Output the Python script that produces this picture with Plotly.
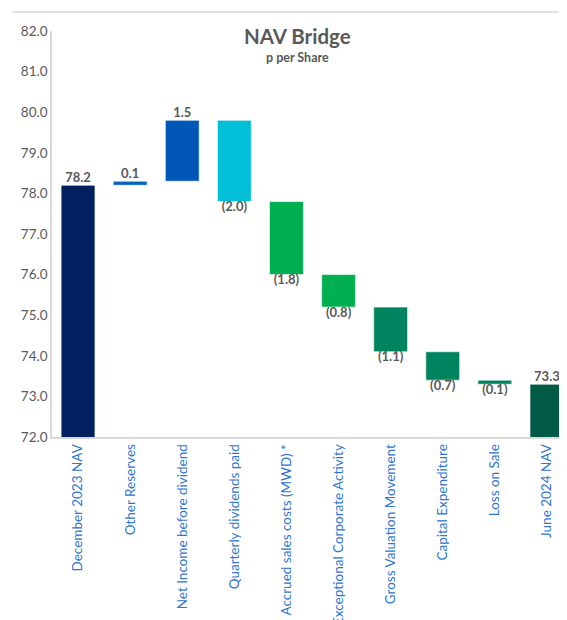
import plotly.graph_objects as go

categories = ["December 2023 NAV", "Other Reserves", "Net Income before dividend",
              "Quarterly dividends paid", "Accrued sales costs (MWD) *",
              "Exceptional Corporate Activity", "Gross Valuation Movement",
              "Capital Expenditure", "Loss on Sale", "June 2024 NAV"]
start_nav = 78.2
movements = [0.1, 1.5, -2.0, -1.8, -0.8, -1.1, -0.7, -0.1]
end_nav = 73.3
bar_colors = ["#002060", "#0563C1", "#0057B8", "#00BFD6", "#00B050", "#00B050",
              "#00845F", "#00845F", "#00845F", "#005A46"]
y_ticks = [72, 73, 74, 75, 76, 77, 78, 79, 80, 81, 82]

# build bases / heights from data
bases, heights, label_y, label_pos, label_txt = [], [], [], [], []
bases.append(0); heights.append(start_nav)
label_y.append(start_nav); label_pos.append("top center"); label_txt.append(f"{start_nav:.1f}")
level = start_nav
for m in movements:
    new = level + m
    bases.append(min(level, new)); heights.append(abs(m))
    if m >= 0:
        label_y.append(new); label_pos.append("top center"); label_txt.append(f"{m:.1f}")
    else:
        label_y.append(new); label_pos.append("bottom center"); label_txt.append(f"({abs(m):.1f})")
    level = new
bases.append(0); heights.append(end_nav)
label_y.append(end_nav); label_pos.append("top center"); label_txt.append(f"{end_nav:.1f}")

fig = go.Figure()
fig.add_trace(go.Bar(x=categories, y=heights, base=bases, width=0.65,
                     marker=dict(color=bar_colors, line=dict(color="rgba(255,255,255,0.6)", width=1)),
                     hoverinfo="skip", showlegend=False))
fig.add_trace(go.Scatter(x=categories, y=label_y, mode="text", text=label_txt,
                         textposition=label_pos,
                         textfont=dict(family="Lato", size=13, color="#595959", weight="bold"),
                         hoverinfo="skip", showlegend=False, cliponaxis=False))

fig.update_layout(
    width=559, height=612,
    margin=dict(l=44, r=0, t=23, b=183, autoexpand=False),
    paper_bgcolor="white", plot_bgcolor="white",
    font=dict(family="Lato", color="#595959"),
    xaxis=dict(range=[-0.5, 9.385], showgrid=False, tickangle=-90, automargin=False,
               tickfont=dict(family="Lato", size=13.5, color="#2E75D0"),
               showline=True, linecolor="#D9D9D9", linewidth=1.5, ticks=""),
    yaxis=dict(range=[72, 82], tickvals=y_ticks, tickformat=".1f", showgrid=False,
               zeroline=False, automargin=False,
               showline=True, linecolor="#D9D9D9", linewidth=1.5, ticks="",
               tickfont=dict(family="Lato", size=13.5, color="#595959")),
    annotations=[
        dict(text="<b>NAV Bridge</b>", xref="paper", yref="paper", x=0.476, y=0.988,
             xanchor="center", yanchor="middle", showarrow=False,
             font=dict(family="Lato", size=20.5, color="#595959")),
        dict(text="<b>p per Share</b>", xref="paper", yref="paper", x=0.476, y=0.935,
             xanchor="center", yanchor="middle", showarrow=False,
             font=dict(family="Lato", size=12.5, color="#595959")),
    ],
    shapes=[dict(type="line", xref="paper", yref="paper", x0=-0.078, x1=1.0,
                 y0=1.047, y1=1.047, line=dict(color="#E3E3E3", width=2))],
)

fig.write_html("out.html")
